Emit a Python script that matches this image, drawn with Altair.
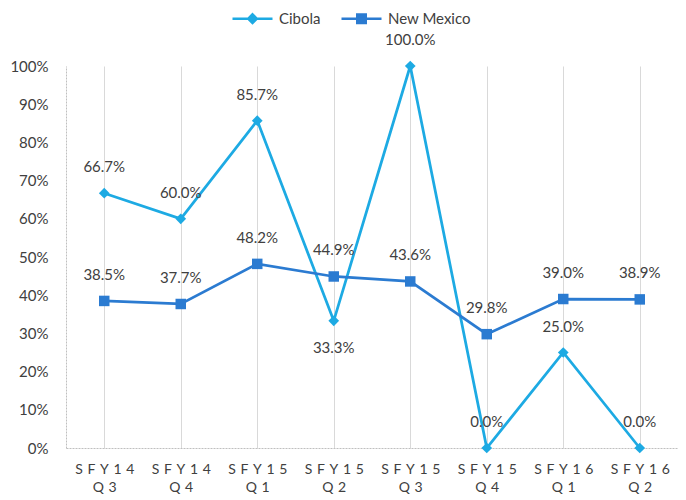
import altair as alt
import pandas as pd

categories = ["SFY14 Q3", "SFY14 Q4", "SFY15 Q1", "SFY15 Q2",
              "SFY15 Q3", "SFY15 Q4", "SFY16 Q1", "SFY16 Q2"]
series_names = ["Cibola", "New Mexico"]
cibola = [0.667, 0.600, 0.857, 0.333, 1.000, 0.000, 0.250, 0.000]
new_mexico = [0.385, 0.377, 0.482, 0.449, 0.436, 0.298, 0.390, 0.389]
y_ticks = [0, 0.1, 0.2, 0.3, 0.4, 0.5, 0.6, 0.7, 0.8, 0.9, 1.0]

colors = ["#1DAAE3", "#2B7BD1"]
legend_paths = ["M-4,0H4M0,-0.85L0.85,0L0,0.85L-0.85,0Z",
                "M-4,0H4M-0.85,-0.85H0.85V0.85H-0.85Z"]

rows = []
for name, vals in zip(series_names, [cibola, new_mexico]):
    for c, v in zip(categories, vals):
        rows.append({"cat": c, "series": name, "value": v})
df = pd.DataFrame(rows)

FONT = "Lato"
TXT = "#404040"
SP = "\u2004"

x_enc = alt.X(
    "cat:N", sort=categories, title=None,
    scale=alt.Scale(paddingInner=0, paddingOuter=0),
    axis=alt.Axis(
        labelAngle=0, ticks=False, grid=True, bandPosition=0,
        gridColor="#D9D9D9", gridWidth=1,
        domainColor="#BFBFBF", domainDash=[2, 1],
        labelFont=FONT, labelFontSize=14, labelColor=TXT,
        labelPadding=14, labelLineHeight=18,
        labelExpr="[join(split(split(datum.label,' ')[0],''),'" + SP + "'), join(split(split(datum.label,' ')[1],''),'" + SP + "')]",
    ),
)
y_enc = alt.Y(
    "value:Q", title=None,
    scale=alt.Scale(domain=[0, 1], nice=False),
    axis=alt.Axis(
        values=y_ticks, format=".0%", ticks=False, grid=False,
        domainColor="#BFBFBF", domainDash=[2, 1],
        labelFont=FONT, labelFontSize=15, labelColor=TXT, labelPadding=18,
    ),
)

legend = alt.Legend(
    title=None, orient="none", legendX=179, legendY=-55, direction="horizontal",
    symbolSize=100, symbolStrokeWidth=2.5, symbolOpacity=1,
    labelFont=FONT, labelFontSize=15, labelColor=TXT,
    labelOffset=19, columnPadding=15,
)

lines = alt.Chart(df).mark_line(strokeWidth=2.75).encode(
    x=x_enc, y=y_enc,
    color=alt.Color("series:N", scale=alt.Scale(domain=series_names, range=colors), legend=legend),
    shape=alt.Shape("series:N", scale=alt.Scale(domain=series_names, range=legend_paths), legend=legend),
)

pts_c = alt.Chart(df).transform_filter(alt.datum.series == "Cibola").mark_point(
    shape="diamond", filled=True, size=115, opacity=1, color=colors[0]
).encode(x=x_enc, y=y_enc)
pts_n = alt.Chart(df).transform_filter(alt.datum.series == "New Mexico").mark_point(
    shape="square", filled=True, size=110, opacity=1, color=colors[1]
).encode(x=x_enc, y=y_enc)

below = (alt.datum.series == "Cibola") & (alt.datum.cat == "SFY15 Q2")
txt_above = alt.Chart(df).transform_filter(~below).mark_text(
    dy=-26, font=FONT, fontSize=15, color=TXT, baseline="middle"
).encode(x=x_enc, y=y_enc, text=alt.Text("value:Q", format=".1%"))
txt_below = alt.Chart(df).transform_filter(below).mark_text(
    dy=27, font=FONT, fontSize=15, color=TXT, baseline="middle"
).encode(x=x_enc, y=y_enc, text=alt.Text("value:Q", format=".1%"))

chart = alt.layer(lines, pts_c, pts_n, txt_above, txt_below).properties(
    width=612, height=382,
    padding={"left": 58, "top": 58, "right": 0, "bottom": 50},
    autosize=alt.AutoSizeParams(type="none"),
).configure_view(stroke=None)

chart.save("out.html", embed_options={"renderer": "svg", "actions": False})
